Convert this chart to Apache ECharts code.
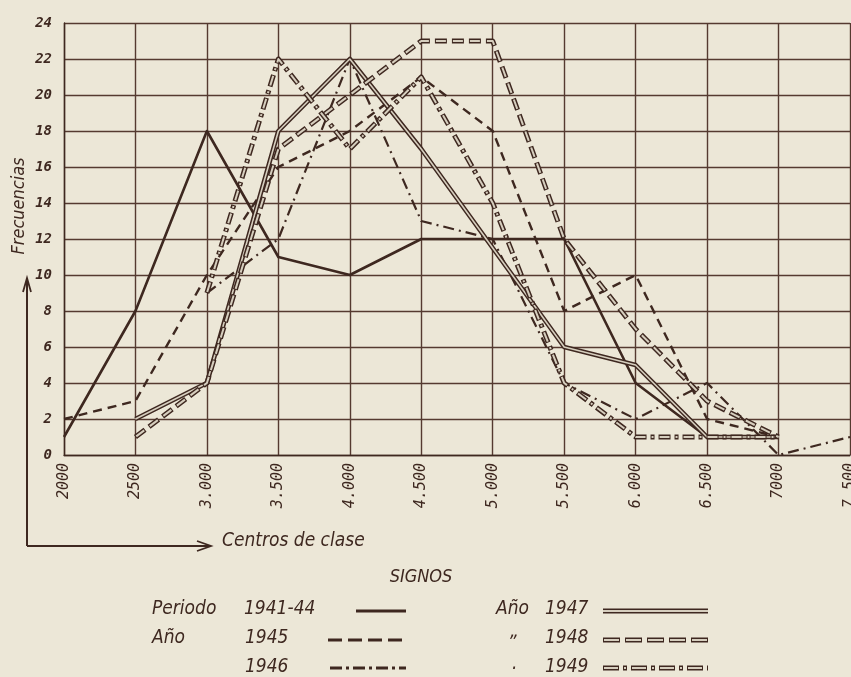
<!DOCTYPE html>
<html>
<head>
<meta charset="utf-8">
<script src="https://cdn.jsdelivr.net/npm/echarts@6/dist/echarts.min.js"></script>
<style>
html,body{margin:0;padding:0;background:#ece7d7;}
#chart{width:851px;height:677px;}
</style>
</head>
<body>
<div id="chart"></div>
<script>
// centros de clase (eje x) y frecuencias por serie
var centros = ['2000','2500','3.000','3.500','4.000','4.500','5.000','5.500','6.000','6.500','7000','7.500'];
var periodo4144 = [1, 8, 18, 11, 10, 12, 12, 12, 4, 1, 1, null];
var anio1945 = [2, 3, 10, 16, 18, 21, 18, 8, 10, 2, 1, null];
var anio1946 = [null, null, 9, 12, 22, 13, 12, 4, 2, 4, 0, 1];
var anio1947 = [null, 2, 4, 18, 22, 17, 11.5, 6, 5, 1, 1, null];
var anio1948 = [null, 1, 4, 17, 20, 23, 23, 12, 7, 3, 1, null];
var anio1949 = [null, null, 9, 22, 17, 21, 14, 4, 1, 1, 1, null];

var tinta = '#3e2820';
var papel = '#ece7d7';
var hueco = '#d6cebe';

function linea(nombre, datos, ancho, color, tipo, offset){
  return {
    name: nombre, type: 'line', data: datos, showSymbol: false, silent: true,
    connectNulls: false,
    lineStyle: {color: color, width: ancho, type: tipo || 'solid', dashOffset: offset || 0, join: 'round'}
  };
}

var chart = echarts.init(document.getElementById('chart'));

function muestra(x1, x2, y, w, color, dash, off){
  return {type:'line', silent:true, shape:{x1:x1, y1:y, x2:x2, y2:y},
    style:{stroke:color, lineWidth:w, lineDash:dash || null, lineDashOffset: off || 0}};
}
function texto(t, x, y, font, align){
  return {type:'text', silent:true, x:x, y:y,
    style:{text:t, font:font, fill:tinta, align:align||'left', textAlign:align||'left', verticalAlign:'middle', textVerticalAlign:'middle'}};
}

var fLey = "italic 19px 'DejaVu Sans Condensed', 'DejaVu Sans', sans-serif";

chart.setOption({
  backgroundColor: papel,
  animation: false,
  grid: {left: 64, right: 1, top: 23, bottom: 222, containLabel: false, outerBoundsMode: 'none'},
  xAxis: {
    type: 'category', data: centros, boundaryGap: false,
    axisLine: {show: true, lineStyle: {color: tinta, width: 1.4}},
    axisTick: {show: false},
    splitLine: {show: true, lineStyle: {color: '#553a30', width: 1.4}},
    axisLabel: {rotate: 90, margin: 8, color: tinta, fontFamily: "'DejaVu Sans Mono', monospace", fontStyle: 'italic', fontSize: 15, showMaxLabel: true}
  },
  yAxis: {
    type: 'value', min: 0, max: 24, interval: 2,
    axisLine: {show: true, lineStyle: {color: tinta, width: 1.4}},
    axisTick: {show: false},
    splitLine: {show: true, lineStyle: {color: '#553a30', width: 1.4}},
    axisLabel: {margin: 12, color: tinta, fontFamily: "'DejaVu Sans Mono', monospace", fontStyle: 'italic', fontWeight: 'bold', fontSize: 14, padding: [0, 0, 9, 0]}
  },
  series: [
    linea('Periodo 1941-44', periodo4144, 2.6, tinta, 'solid'),
    linea('1945', anio1945, 2.4, tinta, [9, 6]),
    linea('1946', anio1946, 2.2, tinta, [11, 5, 2, 5]),
    linea('1947', anio1947, 4.6, tinta, 'solid'),
    linea('1947b', anio1947, 1.6, hueco, 'solid'),
    linea('1948', anio1948, 5, tinta, [12, 5]),
    linea('1948b', anio1948, 2, hueco, [10, 7], -1),
    linea('1949', anio1949, 5, tinta, [12, 4, 4, 4]),
    linea('1949b', anio1949, 2, hueco, [10, 6, 2, 6], -1)
  ],
  graphic: [
    // flechas de los ejes exteriores
    {type:'line', silent:true, shape:{x1:27, y1:546, x2:27, y2:279}, style:{stroke:tinta, lineWidth:2}},
    {type:'polyline', silent:true, shape:{points:[[23,292],[27,278],[31,292]]}, style:{stroke:tinta, lineWidth:1.8, fill:null}},
    {type:'line', silent:true, shape:{x1:27, y1:546, x2:210, y2:546}, style:{stroke:tinta, lineWidth:2}},
    {type:'polyline', silent:true, shape:{points:[[197,541],[211,546],[197,551]]}, style:{stroke:tinta, lineWidth:1.8, fill:null}},
    {type:'text', silent:true, x:19, y:206, rotation: Math.PI/2,
      style:{text:'Frecuencias', font:"italic 18px 'DejaVu Sans Condensed', 'DejaVu Sans', sans-serif", fill:tinta, align:'center', textAlign:'center', verticalAlign:'middle', textVerticalAlign:'middle'}},
    texto('Centros de clase', 222, 541, "italic 19px 'DejaVu Sans Condensed', 'DejaVu Sans', sans-serif"),
    texto('SIGNOS', 421, 577, "italic 18px 'DejaVu Sans Condensed', 'DejaVu Sans', sans-serif", 'center'),
    // leyenda
    texto('Periodo', 152, 609, fLey),
    texto('1941-44', 244, 609, fLey),
    muestra(356, 406, 611, 3, tinta),
    texto('Año', 152, 638, fLey),
    texto('1945', 245, 638, fLey),
    muestra(328, 406, 640, 3, tinta, [14, 6]),
    texto('1946', 245, 667, fLey),
    muestra(330, 406, 668, 3, tinta, [12, 4, 3, 4]),
    texto('Año', 496, 609, fLey),
    texto('1947', 545, 609, fLey),
    muestra(603, 708, 611, 5, tinta),
    muestra(603, 708, 611, 1.8, hueco),
    texto('„', 510, 632, fLey),
    texto('1948', 545, 638, fLey),
    muestra(603, 708, 640, 5, tinta, [17, 5]),
    muestra(603, 708, 640, 2, hueco, [15, 7], -1),
    texto('.', 512, 664, fLey),
    texto('1949', 545, 667, fLey),
    muestra(603, 708, 668, 5, tinta, [16, 4, 4, 4]),
    muestra(603, 708, 668, 2, hueco, [14, 6, 2, 6], -1)
  ]
});
</script>
</body>
</html>
